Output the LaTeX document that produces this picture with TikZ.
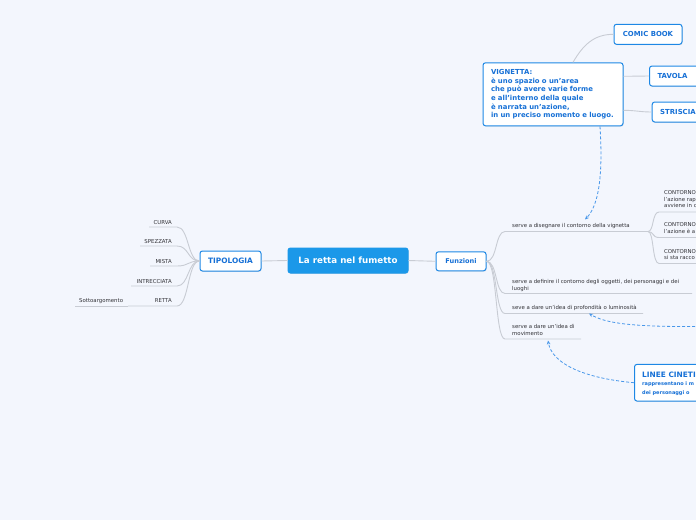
\documentclass[tikz,border=0pt]{standalone}
\usepackage{fontspec}
\setmainfont{DejaVu Sans}
\usetikzlibrary{arrows.meta,shadows,calc}
\definecolor{bg}{RGB}{243,246,253}
\definecolor{mblue}{RGB}{30,136,229}
\definecolor{tblue}{RGB}{22,112,214}
\definecolor{cfill}{RGB}{27,152,233}
\definecolor{lgrey}{RGB}{200,204,212}
\definecolor{tgrey}{RGB}{50,50,55}
\definecolor{dblue}{RGB}{74,152,234}
\begin{document}
\begin{tikzpicture}[x=1pt,y=-1pt,
  box/.style={draw=mblue, line width=1pt, fill=white, rounded corners=2.5pt,
    drop shadow={opacity=0.18, shadow xshift=0.6pt, shadow yshift=-0.9pt},
    text=tblue, font=\bfseries\fontsize{6.9}{8.6}\selectfont, inner sep=0pt},
  lab/.style={text=tgrey, font=\fontsize{5.4}{6.5}\selectfont, inner sep=0pt},
  gline/.style={draw=lgrey, line width=0.9pt},
  dline/.style={draw=dblue, line width=0.8pt, dash pattern=on 3pt off 2pt, -{Stealth[length=4pt,width=3.6pt]}}
]
\useasboundingbox (0,0) rectangle (696,520);
\clip (0,0) rectangle (696,520);
\fill[bg] (0,0) rectangle (696,520);

% main nodes
\node[box, fill=cfill, draw=cfill, text=white, font=\bfseries\fontsize{8.7}{10}\selectfont,
  minimum width=120pt, minimum height=25pt] (root) at (348,260.5) {La retta nel fumetto};
\node[box, font=\bfseries\fontsize{7.4}{9}\selectfont, minimum width=61pt, minimum height=20pt] (tipo) at (230.5,261) {TIPOLOGIA};
\node[box, font=\bfseries\fontsize{6.6}{8}\selectfont, minimum width=50pt, minimum height=19pt] (funz) at (461,261.3) {Funzioni};

\draw[gline] (root.west) -- (tipo.east);
\draw[gline] (root.east) -- (funz.west);

% left branches
\node[lab, anchor=base east] (curva) at (172,224.5) {CURVA};
\node[lab, anchor=base east] (spez) at (172,243.5) {SPEZZATA};
\node[lab, anchor=base east] (mista) at (172,263.5) {MISTA};
\node[lab, anchor=base east] (intr) at (172,283) {INTRECCIATA};
\node[lab, anchor=base east] (retta) at (172,302.5) {RETTA};
\node[lab, anchor=base west] (sotto) at (79,302.5) {Sottoargomento};

\coordinate (l1a) at (149,227); \coordinate (l1b) at (177,227);
\coordinate (l2a) at (140,246); \coordinate (l2b) at (177,246);
\coordinate (l3a) at (150,266); \coordinate (l3b) at (177,266);
\coordinate (l4a) at (131,286); \coordinate (l4b) at (177,286);
\coordinate (l5a) at (128,306); \coordinate (l5b) at (177,306);
\coordinate (l6a) at (75,306);
\foreach \a/\b in {l1a/l1b,l2a/l2b,l3a/l3b,l4a/l4b,l5a/l5b}{
  \draw[gline] (\a) -- (\b) .. controls +(12,0) and +(-12,0) .. (tipo.west);
}
\draw[gline] (l6a) -- (l5a);

% right branches
\node[lab, anchor=base west] (c1) at (512,227.5) {serve a disegnare il contorno della vignetta};
\node[lab, anchor=base west] (c2a) at (512,283.5) {serve a definire il contorno degli oggetti, dei personaggi e dei};
\node[lab, anchor=base west] (c2b) at (512,290) {luoghi};
\node[lab, anchor=base west] (c3) at (512,309.5) {seve a dare un'idea di profondità o luminosità};
\node[lab, anchor=base west] (c4a) at (512,328.5) {serve a dare un'idea di};
\node[lab, anchor=base west] (c4b) at (512,335) {movimento};

\coordinate (r1a) at (505,231.5); \coordinate (r1b) at (648,231.5);
\coordinate (r2a) at (505,293.5); \coordinate (r2b) at (692,293.5);
\coordinate (r3a) at (505,313.5); \coordinate (r3b) at (643,313.5);
\coordinate (r4a) at (505,339); \coordinate (r4b) at (581,339);
\foreach \a/\b in {r1a/r1b,r2a/r2b,r3a/r3b,r4a/r4b}{
  \draw[gline] (funz.east) .. controls +(11,0) and +(-10,0) .. (\a) -- (\b);
}

% CONTORNO sub-branches
\node[lab, anchor=base west] (i1a) at (664,194.7) {CONTORNO};
\node[lab, anchor=base west] (i1b) at (664,201.2) {l'azione rap};
\node[lab, anchor=base west] (i1c) at (664,207.7) {avviene in c};
\node[lab, anchor=base west] (i2a) at (664,226.3) {CONTORNO};
\node[lab, anchor=base west] (i2b) at (664,233) {l'azione è a};
\node[lab, anchor=base west] (i3a) at (664,253) {CONTORNO};
\node[lab, anchor=base west] (i3b) at (664,259.7) {si sta racco};
\coordinate (s1) at (659,212); \coordinate (s2) at (659,237.5); \coordinate (s3) at (659,263.5);
\foreach \s in {s1,s2,s3}{
  \draw[gline] (r1b) .. controls +(6,0) and +(-7,0) .. (\s) -- +(45,0);
}

% VIGNETTA group
\node[box, minimum width=140pt, minimum height=63pt, text width=124pt, align=left] (vign) at (553,94.3)
  {VIGNETTA:\\è uno spazio o un'area\\che può avere varie forme\\e all'interno della quale\\è narrata un'azione,\\in un preciso momento e luogo.};
\node[box, minimum width=68pt, minimum height=20pt] (comic) at (648,34.3) {COMIC BOOK};
\node[box, anchor=west, minimum width=70pt, minimum height=20pt, text width=54pt, align=left] (tavola) at (649,76) {TAVOLA};
\node[box, anchor=west, minimum width=70pt, minimum height=20pt, text width=54pt, align=left] (stris) at (651.7,112) {STRISCIA};

\draw[gline] ($(vign.north)+(20,0)$) .. controls +(10,-17) and +(-20,0) .. (comic.west);
\draw[gline] ($(vign.north east)+(0,14)$) .. controls +(12,0) and +(-12,0) .. (tavola.west);
\draw[gline] ($(vign.south east)+(0,-16)$) .. controls +(12,0) and +(-12,0) .. (stris.west);

% LINEE CINETICHE
\node[box, anchor=west, minimum width=90pt, minimum height=36.7pt] (linee) at (634,382.7) {};
\node[inner sep=0pt, anchor=base west, text=tblue, font=\bfseries\fontsize{7.4}{9}\selectfont] (lt1) at (642,377) {LINEE CINETI};
\node[inner sep=0pt, anchor=base west, text=tblue, font=\bfseries\fontsize{5}{6}\selectfont] (lt2) at (642,385) {rappresentano i m};
\node[inner sep=0pt, anchor=base west, text=tblue, font=\bfseries\fontsize{5}{6}\selectfont] (lt3) at (642,394) {dei personaggi o};

% dashed relations
\coordinate (d1s) at (600,126.3);
\coordinate (d1e) at (585,219.5);
\draw[dline] (d1s) .. controls (603,175) and (599,205) .. (d1e);
\coordinate (d2s) at (700,326.5);
\coordinate (d2e) at (589,313.5);
\draw[dline] (d2s) .. controls (630,327) and (605,323) .. (d2e);
\coordinate (d3e) at (548,340.5);
\draw[dline] (linee.west) .. controls (582,378) and (552,363) .. (d3e);
\end{tikzpicture}
\end{document}
